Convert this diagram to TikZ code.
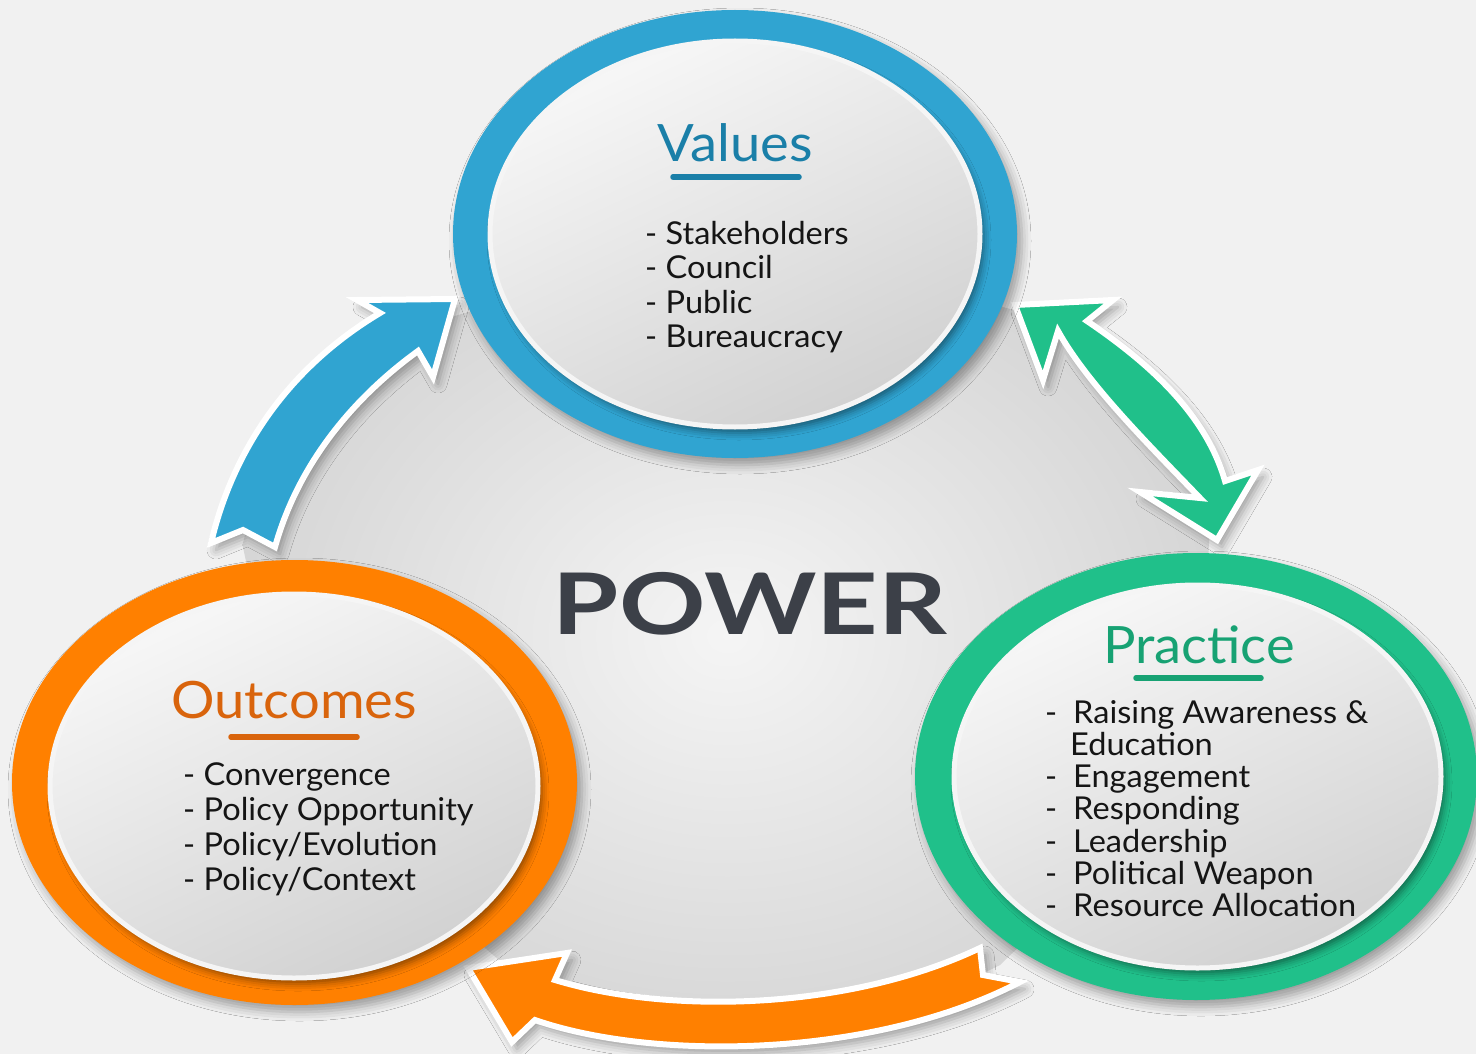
\documentclass[tikz,border=0pt]{standalone}
\usepackage{fontspec}
\setmainfont{Lato}[FakeStretch=1.033]
\newfontfamily\titlefont{Lato}[FakeStretch=1.055]
\newfontfamily\powerfont{Lato}[FakeStretch=1.26]
\usetikzlibrary{shadows.blur}
\definecolor{bg}{HTML}{F1F1F1}
\definecolor{ringblue}{HTML}{30A4D1}
\definecolor{ringgreen}{HTML}{20C08A}
\definecolor{ringorange}{HTML}{FF8000}
\definecolor{titleblue}{HTML}{1A7FA8}
\definecolor{titlegreen}{HTML}{17A273}
\definecolor{titleorange}{HTML}{D9640C}
\definecolor{powergray}{HTML}{3C4048}
\definecolor{txt}{HTML}{151515}
\begin{document}
\begin{tikzpicture}[x=1pt,y=-1pt,
  softshadow/.style={blur shadow={shadow xshift=5pt, shadow yshift=-7pt, shadow blur radius=9pt, shadow opacity=35}},
  arrowbody/.style={draw=white, line width=6pt, line join=miter, miter limit=20, softshadow},
  ring/.style={softshadow},
  innerdisk/.style={draw=white!96!black, line width=5pt, top color=white!97!black, bottom color=white!82!black, shading angle=25,
     blur shadow={shadow xshift=4pt, shadow yshift=-6pt, shadow blur radius=7pt, shadow opacity=45}},
  title/.style={font=\titlefont\fontsize{51.5}{60}\selectfont, inner sep=0pt, anchor=base},
  item/.style={font=\fontsize{31.5}{36}\selectfont, text=txt, inner sep=0pt, anchor=base west},
  uline/.style={line width=5.5pt, line cap=round}]
\useasboundingbox (0,0) rectangle (1476,1054);
\fill[bg] (0,0) rectangle (1476,1054);

% central disk, bounded by the arrows and hidden under the rings
\shade[inner color=white!96!black, outer color=white!84!black]
  (242.5,545) .. controls (262.5,460) and (315,385) .. (398.5,332.5)
  -- (735,234) -- (1072.5,326)
  .. controls (1120,375) and (1175,430) .. (1212,489.5)
  -- (1196,776) -- (1000,965)
  .. controls (860,1035) and (660,1037.5) .. (545,1000)
  -- (294,782) -- cycle;

% blue arrow (Outcomes -> Values)
\path[arrowbody, fill=ringblue]
  (211,543) .. controls (233,450) and (288,368) .. (380,313)
  -- (357,300) -- (455,299) -- (433,377) -- (418,351)
  .. controls (345,404) and (296,472) .. (275,547)
  -- (243,530) -- cycle;

% green double arrow (Values <-> Practice)
\path[arrowbody, fill=ringgreen]
  (1015,305) -- (1113,300) -- (1087,321)
  .. controls (1155,367) and (1207,418) .. (1225,481)
  -- (1258,470) -- (1217,540) -- (1140,492) -- (1200,498)
  .. controls (1146,442) and (1087,383) .. (1058,331)
  -- (1043,380) -- cycle;

% orange arrow (Practice -> Outcomes)
\path[arrowbody, fill=ringorange]
  (1020,982) .. controls (870,1060) and (650,1060) .. (535,1020)
  -- (512,1042) -- (468,968) -- (567,953) -- (555,980)
  .. controls (670,1015) and (850,1010) .. (980,948)
  -- (983,975) -- cycle;

% rings
\fill[ringblue, ring] (735,234) ellipse[x radius=282pt, y radius=224pt];
\path[innerdisk] (735,234) ellipse[x radius=245pt, y radius=193pt];

\fill[ringorange, ring] (294.5,782.5) ellipse[x radius=282.5pt, y radius=222.5pt];
\path[innerdisk] (294,786) ellipse[x radius=244pt, y radius=192pt];

\fill[ringgreen, ring] (1196,776.5) ellipse[x radius=281pt, y radius=223.5pt];
\path[innerdisk] (1197.5,776.5) ellipse[x radius=243.5pt, y radius=191.5pt];

% POWER
\node[font=\powerfont\fontsize{85}{96}\selectfont\bfseries, text=powergray, inner sep=0pt, anchor=base] (power) at (750,634) {POWER};

% Values
\node[title, text=titleblue] (valT) at (735,161) {Values};
\draw[uline, titleblue] (673,177) -- (799,177);
\foreach \t [count=\i] in {Stakeholders, Council, Public, Bureaucracy}
  \node[item] (val\i) at (645,209.5+34.5*\i) {- \t};

% Outcomes
\node[title, text=titleorange] (outT) at (294,718) {Outcomes};
\draw[uline, titleorange] (231,737) -- (357,737);
\foreach \t [count=\i] in {Convergence, Policy Opportunity, Policy/Evolution, Policy/Context}
  \node[item] (out\i) at (183,750+35*\i) {- \t};

% Practice
\node[title, text=titlegreen] (prT) at (1199,663) {Practice};
\draw[uline, titlegreen] (1136,678) -- (1261,678);
\node[item] (pr1) at (1045,723) {\makebox[28pt][l]{-}Raising Awareness \&};
\node[item] (pr2) at (1070,755.3) {Education};
\node[item] (pr3) at (1045,787.6) {\makebox[28pt][l]{-}Engagement};
\node[item] (pr4) at (1045,819.9) {\makebox[28pt][l]{-}Responding};
\node[item] (pr5) at (1045,852.2) {\makebox[28pt][l]{-}Leadership};
\node[item] (pr6) at (1045,884.5) {\makebox[28pt][l]{-}Political Weapon};
\node[item] (pr7) at (1045,916.8) {\makebox[28pt][l]{-}Resource Allocation};
\end{tikzpicture}
\end{document}
